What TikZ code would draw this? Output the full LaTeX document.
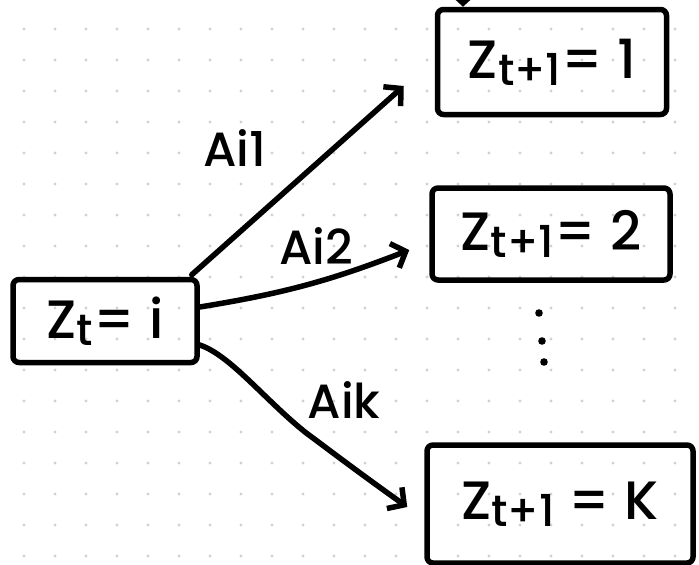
\documentclass[tikz,border=0pt]{standalone}
\usepackage{fontspec}
\setmainfont{Poppins}[BoldFont={Poppins Medium}]
\usetikzlibrary{arrows.meta}
% lowered, slightly smaller subscript as written by hand
\newcommand\lowsub[1]{\raisebox{-7pt}{\fontsize{44}{44}\selectfont #1}}
\begin{document}
\begin{tikzpicture}[x=1pt,y=-1pt,
  ink/.style={line width=5.5pt,line cap=round,line join=round},
  state/.style={ink,draw,rounded corners=6pt,inner sep=0pt,
    font=\fontsize{54}{54}\selectfont\bfseries},
  edge/.style={ink,-{Straight Barb[length=12pt,width=26pt,line width=5.5pt]}},
  lbl/.style={inner sep=0pt,font=\fontsize{48}{48}\selectfont\bfseries},
  griddot/.style={fill=black!18}]
\useasboundingbox (0,0) rectangle (699,565);
\clip (0,0) rectangle (699,565);

% dotted paper
\foreach \i in {0,...,21}
  \foreach \j in {0,...,17}
    \fill[griddot] (24+31*\i,29+31*\j) circle[radius=1.6pt];

% states
\node[state,minimum width=184pt,minimum height=83pt] (a)  at (105,321) {Z\lowsub{t}= i};
\node[state,minimum width=229pt,minimum height=105pt] (b1) at (552,62) {Z\lowsub{t+1}= 1};
\node[state,minimum width=238pt,minimum height=92pt] (b2) at (551,234) {Z\lowsub{t+1}= 2};
\node[state,minimum width=266pt,minimum height=118pt] (bk) at (560,504) {Z\lowsub{t+1} = K};

% vertical ellipsis between the second and the last state
\fill (539,313) circle[radius=3.8pt];
\fill (542,341) circle[radius=3.8pt];
\fill (544,362) circle[radius=3.8pt];

% transitions
\coordinate (top) at (463,-40);
\draw[edge] (top) -- (top |- b1.north);
\draw[edge] ([xshift=-8pt,yshift=2pt]a.north east) -- ([shift={(-31pt,-24pt)}]b1.west);
\draw[edge] ([yshift=14pt]a.east) to[bend right=6] ([shift={(-20pt,-16pt)}]b2.west);
\draw[edge] ([yshift=-24pt]a.east)
  .. controls (230,355) and (265,400) .. (305,432)
  .. controls (345,462) and (372,482) .. ([xshift=-17pt,yshift=-3pt]bk.west);

% transition labels
\node[lbl] (l1) at (235,148) {Ai1};
\node[lbl] (l2) at (316,246) {Ai2};
\node[lbl] (lk) at (344,400) {Aik};
\end{tikzpicture}
\end{document}
